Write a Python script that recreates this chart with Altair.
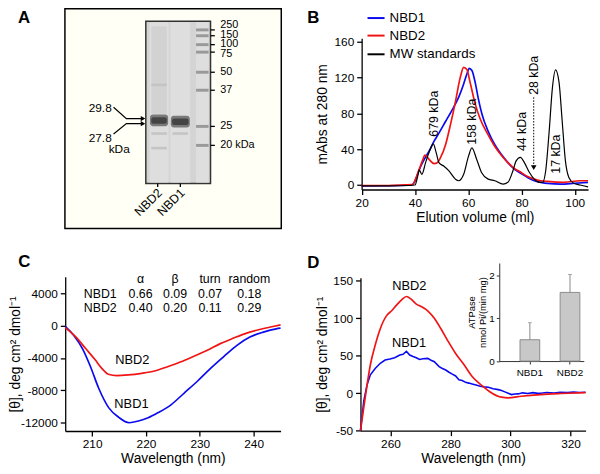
import altair as alt
import pandas as pd

FONT = "Liberation Sans"
W, H = 592, 466
BLUE, RED, BLACK = "#0a0af0", "#f01414", "#000000"

# ---------------- Panel A: SDS-PAGE ----------------
marker_labels = ["250", "150", "100", "75", "50", "37", "25", "20 kDa"]
marker_rf = [0.053, 0.089, 0.144, 0.190, 0.314, 0.425, 0.648, 0.765]
sample_names = ["NBD2", "NBD1"]
sample_mw = ["29.8", "27.8"]
sample_rf = [0.611, 0.619]
arrow_rf = [0.600, 0.631]
faint_lane = ["NBD2", "NBD2", "NBD2", "NBD1"]
faint_rf = [0.392, 0.692, 0.782, 0.692]

# ---------------- Panel B: gel filtration ----------------
b_names = ["NBD1", "NBD2", "MW standards"]
b_nbd1_x = [20, 30, 38.5, 39.8, 41, 42.2, 43.5, 45.3, 47.2, 49, 51.5, 54, 56.4, 58.3, 59.5, 60.4,
            61.4, 62.6, 63.8, 65.1, 67.5, 70, 72.5, 74.9, 77.4, 79.9, 82.3, 84.8, 87.3, 89.8,
            94.7, 100, 105]
b_nbd1_y = [-1, -0.8, 0, 3, 12, 21, 28.6, 37.8, 49, 58, 71, 84, 98, 113, 124, 130.4,
            128, 115, 96.6, 80, 60, 45, 34, 25, 17.6, 12.9, 8.4, 4.8, 3, 1.8,
            1, 2, 3]
b_nbd2_x = [20, 30, 39.1, 40.4, 41.6, 42.8, 43.8, 45.3, 47.2, 48.4, 49.6, 51.5, 53.3, 55.2, 57,
            58.3, 59.5, 60.7, 62.6, 64.4, 67.5, 70, 72.5, 74.9, 77.4, 79.9, 82.3, 84.8, 87.3,
            89.8, 95.9, 102, 105]
b_nbd2_y = [-0.5, -0.5, 0.4, 8, 17.6, 27, 33.4, 28.6, 24, 25, 30.5, 45, 67, 93, 120,
            131.5, 129, 115, 91, 74.6, 56, 43, 33, 25, 18.4, 14, 9.5, 6.6, 4.8,
            4, 3, 4.8, 4.8]
b_std_x = [20, 30, 38, 40, 41.2, 41.6, 42.6, 44, 45.5, 46.9, 48, 49, 50.9, 52.7, 55.2, 56.4,
           58.3, 60.1, 61.4, 63.2, 65, 67.5, 70, 73.1, 74.9, 76.8, 78, 79.6, 81.1, 83, 84.8,
           86.7, 87.9, 89.1, 90.4, 91.6, 92.8, 94.1, 95.3, 96.5, 97.8, 99.6, 102, 105]
b_std_y = [-1, -1, -0.5, 0, 12, 17, 12, 25, 38, 46, 36, 25, 21, 16, 6.6, 4.8,
           12, 32, 41.5, 28.6, 14, 6.6, 4.8, 1, 3, 16, 27, 31, 25, 14, 6.6,
           3, 3, 16, 60, 108, 128.6, 115, 71, 27, 8.4, 2, 0, -2]
b_peak_labels = ["679 kDa", "158 kDa", "44 kDa", "28 kDa", "17 kDa"]
b_peak_x = [47.1, 61.6, 80.1, 84.6, 93.1]
b_peak_y = [79.7, 70.8, 59.8, 122.6, 34.5]

# ---------------- Panel C: far-UV CD ----------------
c_nbd1_x = [205, 206.6, 208.2, 209.7, 211.2, 213.1, 214.9, 216.9, 218.6, 220.4, 222.2, 224.7,
            227.1, 229.5, 232, 234.4, 236.9, 239.3, 241.8, 244.2, 245]
c_nbd1_y = [-100, -1220, -2840, -5075, -7700, -10150, -11290, -11980, -11770, -11370, -10760,
            -9740, -8320, -6900, -5280, -3860, -2440, -1420, -810, -406, -325]
c_nbd2_x = [205, 207, 208.8, 210.6, 211.8, 213, 214.6, 216.7, 219.2, 221.6, 224, 226.5, 228.9,
            231.4, 233.8, 236.3, 238.7, 241.1, 243.6, 245]
c_nbd2_y = [-250, -1420, -2840, -4260, -5280, -6000, -6170, -6090, -5890, -5600, -5075, -4470,
            -3780, -3050, -2230, -1540, -930, -490, -120, 80]
tbl_cols = ["α", "β", "turn", "random"]
tbl_rows = ["NBD1", "NBD2"]
tbl_vals = [["0.66", "0.09", "0.07", "0.18"], ["0.40", "0.20", "0.11", "0.29"]]

# ---------------- Panel D: near-UV CD ----------------
d_nbd2_x = [250, 251.1, 252.2, 253.3, 254.9, 256.6, 258.7, 260.4, 262, 263.7, 265.3, 266.9,
            268.6, 270.2, 272.4, 274.6, 276.8, 279, 281.7, 284.4, 287.2, 290.4, 293.7, 297,
            299.2, 303.6, 310.1, 316.7, 325]
d_nbd2_y = [-50, -19, 11, 38, 64, 86, 103.5, 110, 117.5, 124.6, 129, 125.4, 118.9, 115.8, 110,
            100, 86, 70.6, 53, 38.6, 22.4, 10.5, 0.4, -5.3, -6.1, -4, -1.8, -0.4, 0.9]
d_nbd1_x = [250, 251.1, 252.2, 253.3, 254.9, 256.6, 258.2, 259.8, 261.4, 263.1, 264.2, 265.3,
            266.4, 267.5, 268.6, 269.7, 270.8, 272.4, 273.5, 274.6, 276.2, 277.3, 278.4, 279.5,
            280.6, 281.7, 282.8, 283.9, 285, 286.1, 287.2, 288.5, 289.9, 291.2, 292.6, 294.2,
            295.9, 297, 298.1, 299.2, 300.3, 301.4, 302.5, 304, 305.7, 307.5, 309, 310.1, 312,
            314.5, 316.5, 318.9, 321, 323, 325]
d_nbd1_y = [-50, -10.5, 11.4, 24.6, 33, 40, 44.3, 45.6, 47.4, 51, 52, 56, 51, 49, 47.4, 45, 46,
            46.5, 44, 42, 35.5, 33, 31, 28, 25.4, 23, 18, 17, 14.5, 13.5, 12.3, 11, 9.2, 8.5,
            7.9, 6, 4.8, 3.5, 1.8, 0, -1.8, -1, -0.9, 0.5, -0.4, 0.8, -0.2, 0, 0.9, 0.4, 1.2,
            0.9, 1.5, 1.0, 1.3]

# ---------------- Inset: ATPase activity ----------------
atp_names = ["NBD1", "NBD2"]
atp_mean = [0.50, 1.61]
atp_err = [0.40, 0.42]

# ================= layout (pixel ranges of each panel) =================
def sc(domain, rng):
    return alt.Scale(domain=domain, range=rng, nice=False, zero=False)

GX, GY = sc([0, 3], [139.7, 205.3]), sc([0, 1], [10.3, 174.7])
BX, BY = sc([20, 105], [358.5, 588.0]), sc([-5, 164], [180.8, 27.5])
CX, CY = sc([205, 245], [58.0, 276.3]), sc([-13000, 6000], [425.6, 269.35])
DX, DY = sc([250, 325], [357.3, 585.5]), sc([-50, 154], [425.3, 270.3])
IX = alt.Scale(type="band", domain=atp_names, range=[498, 583.7],
               paddingInner=0.509, paddingOuter=0.3075, align=0.84)
IY = sc([0, 2.3], [354.7, 255.3])

AX = dict(domainColor="black", domainWidth=1.3, tickColor="black", tickWidth=1.3, tickSize=5,
          labelFontSize=12, labelFont=FONT, labelColor="black", titleFont=FONT,
          titleFontSize=14, titleFontWeight="normal", titleColor="black", grid=False,
          labelFlush=False, labelOverlap=False, labelPadding=3)


def ax_bottom(ypx, values, title, **kw):
    d = dict(AX); d.update(kw)
    return alt.Axis(orient="bottom", offset=ypx - H, values=values, title=title,
                    labelExpr="datum.value + ''", **d)


def ax_left(xpx, values, title, **kw):
    d = dict(AX); d.update(kw)
    return alt.Axis(orient="left", offset=-xpx, values=values, title=title,
                    labelExpr="datum.value + ''", **d)


def XQ(sc_, field="x", axis=None):
    return alt.X(f"{field}:Q", scale=sc_, axis=axis)


def YQ(sc_, field="y", axis=None):
    return alt.Y(f"{field}:Q", scale=sc_, axis=axis)


def rects(df, xs, ys, **mk):
    return alt.Chart(df).mark_rect(**mk).encode(x=XQ(xs), x2="x2:Q", y=YQ(ys), y2="y2:Q")


def texts(df, xs, ys, **mk):
    base = dict(font=FONT, color="black", fontSize=12)
    base.update(mk)
    return alt.Chart(df).mark_text(**base).encode(x=XQ(xs), y=YQ(ys), text="t:N")


def line(xs_, ys_, color, xs, ys, xaxis=None, yaxis=None, interp="monotone", sw=1.7):
    df = pd.DataFrame({"x": xs_, "y": ys_})
    return alt.Chart(df).mark_line(color=color, strokeWidth=sw, interpolate=interp).encode(
        x=XQ(xs, axis=xaxis), y=YQ(ys, axis=yaxis))


layers = []

# ---------------- Panel A ----------------
LANE_X = {"NBD2": 0.615, "NBD1": 1.6, "M": 2.62}
LANE_HW = {"NBD2": 0.44, "NBD1": 0.46, "M": 0.29}
LABEL_RF = [0.021, 0.082, 0.142, 0.203, 0.314, 0.425, 0.648, 0.765]

layers.append(rects(pd.DataFrame([{"x": -3.75, "x2": 6.28, "y": -0.077, "y2": 1.277}]), GX, GY,
                    fill="#fffff6", stroke="black", strokeWidth=1.5))
layers.append(rects(pd.DataFrame([{"x": 0, "x2": 3, "y": 0, "y2": 1}]), GX, GY,
                    fill="#d4d4d4", stroke="#333333", strokeWidth=1.5))
layers.append(rects(pd.DataFrame([{"x": LANE_X[k] - LANE_HW[k], "x2": LANE_X[k] + LANE_HW[k],
                                   "y": 0.006, "y2": 0.994} for k in LANE_X]), GX, GY,
                    fill="#dedede"))
layers.append(rects(pd.DataFrame([{"x": LANE_X["NBD2"] - 0.36, "x2": LANE_X["NBD2"] + 0.36,
                                   "y": 0.03, "y2": 0.57}]), GX, GY, fill="#d2d2d2"))
layers.append(rects(pd.DataFrame({"x": [LANE_X[l] - 0.36 for l in faint_lane],
                                  "x2": [LANE_X[l] + 0.36 for l in faint_lane],
                                  "y": [r - 0.008 for r in faint_rf],
                                  "y2": [r + 0.008 for r in faint_rf]}), GX, GY, fill="#c4c4c4"))
layers.append(rects(pd.DataFrame({"x": [LANE_X[n] - LANE_HW[n] + 0.02 for n in sample_names],
                                  "x2": [LANE_X[n] + LANE_HW[n] - 0.02 for n in sample_names],
                                  "y": [r - 0.036 for r in sample_rf],
                                  "y2": [r + 0.036 for r in sample_rf]}), GX, GY, fill="#7a7a7a",
                    cornerRadius=3))
layers.append(rects(pd.DataFrame({"x": [LANE_X[n] - LANE_HW[n] + 0.08 for n in sample_names],
                                  "x2": [LANE_X[n] + LANE_HW[n] - 0.08 for n in sample_names],
                                  "y": [r - 0.02 for r in sample_rf],
                                  "y2": [r + 0.02 for r in sample_rf]}), GX, GY, fill="#454545",
                    cornerRadius=2))
layers.append(rects(pd.DataFrame({"x": [LANE_X["M"] - LANE_HW["M"]] * len(marker_rf),
                                  "x2": [LANE_X["M"] + LANE_HW["M"]] * len(marker_rf),
                                  "y": [r - 0.009 for r in marker_rf],
                                  "y2": [r + 0.009 for r in marker_rf]}), GX, GY, fill="#999999"))
layers.append(alt.Chart(pd.DataFrame({"x": [3.0] * len(marker_rf), "x2": [3.2] * len(marker_rf),
                                      "y": marker_rf})).mark_rule(color="black", strokeWidth=1.3)
              .encode(x=XQ(GX), x2="x2:Q", y=YQ(GY)))
layers.append(texts(pd.DataFrame({"x": [3.45] * len(marker_labels), "y": LABEL_RF,
                                  "t": marker_labels}), GX, GY, align="left", baseline="middle",
                    fontSize=11))
layers.append(alt.Chart(pd.DataFrame({"x": [0.55, 1.6], "y": [1.0, 1.0], "y2": [1.022, 1.022]}))
              .mark_rule(color="black", strokeWidth=1.3).encode(x=XQ(GX), y=YQ(GY), y2="y2:Q"))
layers.append(texts(pd.DataFrame({"x": [0.66, 1.71], "y": [1.045, 1.045], "t": sample_names}),
                    GX, GY, align="right", baseline="middle", angle=315, fontSize=12.5))
arrow_rows = []
for i, r in enumerate(arrow_rf):
    start = 0.530 if i == 0 else 0.695
    for o, (x, y) in enumerate([(-1.495, start), (-0.90, r), (-0.12, r)]):
        arrow_rows.append({"a": i, "o": o, "x": x, "y": y})
layers.append(alt.Chart(pd.DataFrame(arrow_rows)).mark_line(color="black", strokeWidth=1.2)
              .encode(x=XQ(GX), y=YQ(GY), detail="a:N", order="o:Q"))
layers.append(alt.Chart(pd.DataFrame({"x": [-0.13, -0.13], "y": arrow_rf}))
              .mark_point(shape="triangle-right", filled=True, size=28, color="black", opacity=1)
              .encode(x=XQ(GX), y=YQ(GY)))
layers.append(texts(pd.DataFrame({"x": [-1.58, -1.58], "y": [0.533, 0.72], "t": sample_mw}),
                    GX, GY, align="right", baseline="middle"))
layers.append(texts(pd.DataFrame({"x": [-1.72], "y": [0.787], "t": ["kDa"]}),
                    GX, GY, align="left", baseline="middle"))

# ---------------- Panel B ----------------
layers.append(line(b_nbd1_x, b_nbd1_y, BLUE, BX, BY,
                   xaxis=ax_bottom(180.8, [20, 40, 60, 80, 100], "Elution volume (ml)", titlePadding=2),
                   yaxis=ax_left(358.5, [0, 40, 80, 120, 160], "mAbs at 280 nm", titlePadding=4.7)))
layers.append(line(b_nbd2_x, b_nbd2_y, RED, BX, BY))
layers.append(line(b_std_x, b_std_y, BLACK, BX, BY, sw=1.2))
leg = pd.DataFrame({"s": b_names, "x": [22.2] * 3, "x2": [28.6] * 3, "y": [186.6, 167.0, 146.1],
                    "tx": [30.5] * 3, "t": b_names})
layers.append(alt.Chart(leg).mark_rule(strokeWidth=2).encode(
    x=XQ(BX), x2="x2:Q", y=YQ(BY),
    color=alt.Color("s:N", scale=alt.Scale(domain=b_names, range=[BLUE, RED, BLACK]), legend=None)))
layers.append(alt.Chart(leg).mark_text(font=FONT, fontSize=13.5, align="left", baseline="middle",
                                       color="black")
              .encode(x=XQ(BX, "tx"), y=YQ(BY), text="t:N"))
layers.append(texts(pd.DataFrame({"x": b_peak_x, "y": b_peak_y, "t": b_peak_labels}), BX, BY,
                    angle=270, align="center", baseline="middle", fontSize=12.5))
layers.append(alt.Chart(pd.DataFrame({"x": [84.6], "y": [98], "y2": [21]}))
              .mark_rule(color="black", strokeWidth=1, strokeDash=[1.5, 1.5])
              .encode(x=XQ(BX), y=YQ(BY), y2="y2:Q"))
layers.append(alt.Chart(pd.DataFrame({"x": [84.6], "y": [19.5]}))
              .mark_point(shape="triangle-down", filled=True, size=32, color="black", opacity=1)
              .encode(x=XQ(BX), y=YQ(BY)))

# ---------------- Panel C ----------------
layers.append(line(c_nbd1_x, c_nbd1_y, BLUE, CX, CY,
                   xaxis=ax_bottom(425.6, [210, 220, 230, 240], "Wavelength (nm)", titlePadding=2),
                   yaxis=ax_left(58.0, [-12000, -8000, -4000, 0, 4000],
                                 "[θ], deg cm² dmol⁻¹", titlePadding=-2.5)))
layers.append(line(c_nbd2_x, c_nbd2_y, RED, CX, CY))
col_x = [219.0, 225.4, 231.9, 239.2]
tbl = [{"x": cx, "y": 5678, "t": c} for cx, c in zip(col_x, tbl_cols)]
for ry, rn, vals in zip([3939, 2115], tbl_rows, tbl_vals):
    tbl.append({"x": 211.5, "y": ry, "t": rn})
    tbl += [{"x": cx, "y": ry, "t": v} for cx, v in zip(col_x, vals)]
layers.append(texts(pd.DataFrame(tbl), CX, CY, align="center", baseline="middle", fontSize=12.5))
layers.append(texts(pd.DataFrame({"x": [217.46, 217.3], "y": [-4255, -9726], "t": ["NBD2", "NBD1"]}),
                    CX, CY, align="center", baseline="middle", fontSize=13))

# ---------------- Panel D ----------------
layers.append(line(d_nbd1_x, d_nbd1_y, BLUE, DX, DY, interp="linear", sw=1.6,
                   xaxis=ax_bottom(425.3, [260, 280, 300, 320], "Wavelength (nm)", titlePadding=2),
                   yaxis=ax_left(357.3, [-50, 0, 50, 100, 150], "[θ], deg cm² dmol⁻¹",
                                 titlePadding=3.5)))
layers.append(line(d_nbd2_x, d_nbd2_y, RED, DX, DY))
layers.append(texts(pd.DataFrame({"x": [266.3, 266.2], "y": [142.9, 67.5], "t": ["NBD2", "NBD1"]}),
                    DX, DY, align="center", baseline="middle", fontSize=13))

# ---------------- Inset ----------------
atp = pd.DataFrame({"n": atp_names, "m": atp_mean, "z": [0, 0],
                    "top": [m + e for m, e in zip(atp_mean, atp_err)]})
IAX = dict(AX)
IAX.update(labelFontSize=10, tickSize=3, domainWidth=1, tickWidth=1, domainColor="#333333",
           tickColor="#333333", titleFontSize=9.5)
layers.append(alt.Chart(atp).mark_bar(fill="#c8c8c8", stroke="#8c8c8c", strokeWidth=1).encode(
    x=alt.X("n:N", scale=IX, axis=alt.Axis(orient="bottom", offset=354.7 - H, title=None,
                                           labelAngle=0, **dict(IAX, labelPadding=4))),
    y=alt.Y("m:Q", scale=IY, axis=alt.Axis(orient="left", offset=-498, values=[0, 1, 2],
                                           title=["ATPase", "nmol Pi/(min mg)"],
                                           labelExpr="datum.value + ''",
                                           **dict(IAX, titlePadding=1, labelPadding=2))),
    y2="z:Q"))
layers.append(alt.Chart(atp).mark_rule(color="#888888", strokeWidth=1).encode(
    x=alt.X("n:N", scale=IX, axis=None), y=alt.Y("m:Q", scale=IY, axis=None), y2="top:Q"))
layers.append(alt.Chart(atp).mark_tick(color="#888888", thickness=1, size=4, orient="horizontal")
              .encode(x=alt.X("n:N", scale=IX, axis=None), y=alt.Y("top:Q", scale=IY, axis=None)))

# ---------------- panel letters ----------------
letters = pd.DataFrame({"t": ["A", "B", "C", "D"], "px": [16.2, 309.5, 16.5, 309.5],
                        "py": [7, 7, 254, 255.5]})
layers.append(alt.Chart(letters).mark_text(font=FONT, fontSize=17, fontWeight="bold",
                                           align="center", baseline="middle", color="black")
              .encode(x=alt.X("px:Q", scale=None, axis=None), y=alt.Y("py:Q", scale=None, axis=None),
                      text="t:N"))

chart = (alt.layer(*layers)
         .resolve_scale(x="independent", y="independent", color="independent")
         .properties(width=W, height=H, autosize="none", padding=0, background="white")
         .configure_view(stroke=None))

chart.save("out.html", embed_options={"renderer": "svg", "actions": False})
